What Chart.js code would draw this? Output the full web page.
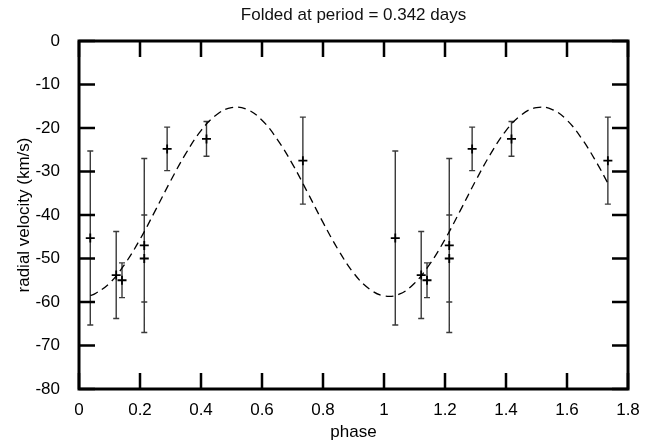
<!DOCTYPE html>
<html>
<head>
<meta charset="utf-8">
<script src="https://cdn.jsdelivr.net/npm/chart.js@4.4.1/dist/chart.umd.min.js"></script>
<style>
    html, body { margin: 0; padding: 0; background: #fff; }
    #wrap { width: 657px; height: 443px; }
</style>
</head>
<body>
<div id="wrap"><canvas id="rvChart" width="657" height="443"></canvas></div>
<script>
// Radial velocities folded at P = 0.342 d (two cycles shown)
const phase = [0.037, 0.122, 0.141, 0.214, 0.214, 0.289, 0.418, 0.734,
               1.037, 1.122, 1.141, 1.214, 1.214, 1.289, 1.418, 1.734];
const velocity = [-45.3, -53.8, -55, -47, -50, -24.8, -22.5, -27.5,
                  -45.3, -53.8, -55, -47, -50, -24.8, -22.5, -27.5];
const velErr = [20, 10, 4, 20, 10, 5, 4, 10,
                20, 10, 4, 20, 10, 5, 4, 10];

// Fitted curve (dashed)
const modelPhase = [0.037, 0.05, 0.10, 0.15, 0.20, 0.25, 0.30, 0.35, 0.40, 0.45,
                    0.50, 0.55, 0.60, 0.65, 0.70, 0.75, 0.80, 0.85, 0.90, 0.95,
                    1.00, 1.05, 1.10, 1.15, 1.20, 1.25, 1.30, 1.35, 1.40, 1.45,
                    1.50, 1.55, 1.60, 1.65, 1.70, 1.734];
const modelVelocity = [-58.5, -58.2, -55.7, -51.3, -45.6, -39.0, -32.2, -25.9, -20.6, -17.0,
                       -15.3, -15.7, -18.2, -22.6, -28.3, -34.9, -41.7, -48.0, -53.3, -56.9,
                       -58.6, -58.2, -55.7, -51.3, -45.6, -39.0, -32.2, -25.9, -20.6, -17.0,
                       -15.3, -15.7, -18.2, -22.6, -28.3, -32.7];

// Axis ticks
const xTicks = [0, 0.2, 0.4, 0.6, 0.8, 1, 1.2, 1.4, 1.6, 1.8];
const yTicks = [0, -10, -20, -30, -40, -50, -60, -70, -80];

Chart.defaults.font.family = "'Liberation Sans', Arial, Helvetica, sans-serif";
Chart.defaults.font.size = 17;
Chart.defaults.color = '#000';

// error bars under the cross markers
const errorBars = {
    id: 'errorBars',
    beforeDatasetsDraw(chart) {
        const { ctx, scales: { x, y } } = chart;
        ctx.save();
        ctx.strokeStyle = '#3a3a3a';
        ctx.lineWidth = 1.4;
        ctx.beginPath();
        phase.forEach((p, i) => {
            const px = x.getPixelForValue(p);
            const top = y.getPixelForValue(velocity[i] + velErr[i]);
            const bot = y.getPixelForValue(velocity[i] - velErr[i]);
            ctx.moveTo(px, top); ctx.lineTo(px, bot);
            ctx.moveTo(px - 3, top); ctx.lineTo(px + 3, top);
            ctx.moveTo(px - 3, bot); ctx.lineTo(px + 3, bot);
        });
        ctx.stroke();
        ctx.restore();
    }
};

// gnuplot-like frame with inward ticks on all four sides
const frame = {
    id: 'frame',
    afterDraw(chart) {
        const { ctx, chartArea: a, scales: { x, y } } = chart;
        const len = 16;
        ctx.save();
        ctx.strokeStyle = '#000';
        ctx.lineWidth = 2.5;
        ctx.beginPath();
        xTicks.forEach(v => {
            const px = x.getPixelForValue(v);
            ctx.moveTo(px, a.bottom); ctx.lineTo(px, a.bottom - len);
            ctx.moveTo(px, a.top); ctx.lineTo(px, a.top + len);
        });
        yTicks.forEach(v => {
            const py = y.getPixelForValue(v);
            ctx.moveTo(a.left, py); ctx.lineTo(a.left + len, py);
            ctx.moveTo(a.right, py); ctx.lineTo(a.right - len, py);
        });
        ctx.stroke();
        ctx.lineWidth = 3;
        ctx.strokeRect(a.left, a.top, a.right - a.left, a.bottom - a.top);
        ctx.restore();
    }
};

new Chart(document.getElementById('rvChart'), {
    type: 'scatter',
    data: {
        datasets: [
            {
                label: 'fit',
                data: modelPhase.map((p, i) => ({ x: p, y: modelVelocity[i] })),
                showLine: true,
                borderColor: '#000',
                borderWidth: 1.3,
                borderDash: [8, 5],
                pointRadius: 0,
                tension: 0.4,
                fill: false
            },
            {
                label: 'rv',
                data: phase.map((p, i) => ({ x: p, y: velocity[i] })),
                pointStyle: 'cross',
                pointRadius: 4.5,
                borderColor: '#000',
                borderWidth: 1.8
            }
        ]
    },
    options: {
        responsive: false,
        animation: false,
        devicePixelRatio: 1,
        layout: { padding: { left: 0, right: 29, top: 0, bottom: 0 } },
        plugins: {
            legend: { display: false },
            tooltip: { enabled: false },
            title: {
                display: true,
                text: 'Folded at period = 0.342 days',
                fullSize: false,
                color: '#111',
                font: { size: 17, weight: 'normal' },
                padding: { top: 5, bottom: 15.6 }
            }
        },
        scales: {
            x: {
                type: 'linear',
                min: 0,
                max: 1.8,
                grid: { display: false },
                border: { display: false },
                afterBuildTicks: s => { s.ticks = xTicks.map(v => ({ value: v })); },
                afterFit: s => { s.height = 54; },
                ticks: { padding: 3, autoSkip: false, maxRotation: 0, callback: v => String(v) },
                title: { display: true, text: 'phase', padding: { top: 0, bottom: 0 } }
            },
            y: {
                min: -80,
                max: 0,
                grid: { display: false },
                border: { display: false },
                afterBuildTicks: s => { s.ticks = yTicks.map(v => ({ value: v })); },
                afterFit: s => { s.width = 79; },
                ticks: { padding: 11, autoSkip: false, callback: v => String(v) },
                title: { display: true, text: 'radial velocity (km/s)', padding: { top: 14, bottom: 0 } }
            }
        }
    },
    plugins: [errorBars, frame]
});
</script>
</body>
</html>
